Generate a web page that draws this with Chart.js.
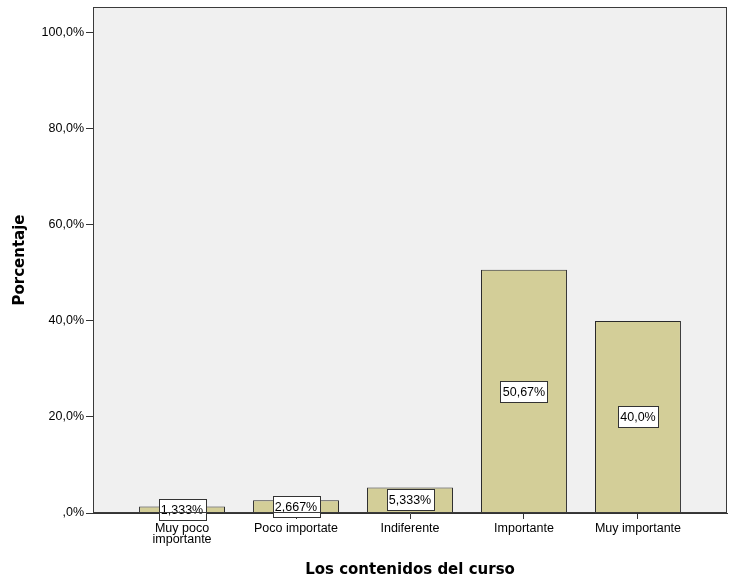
<!DOCTYPE html>
<html><head><meta charset="utf-8">
<script src="https://cdn.jsdelivr.net/npm/chart.js@4/dist/chart.umd.min.js"></script>
<style>html,body{margin:0;padding:0;background:#fff}#wrap{width:734px;height:581px}</style>
</head><body><div id="wrap"><canvas id="c" width="734" height="581"></canvas></div>
<script>
const categories = [['Muy poco','importante'], 'Poco importate', 'Indiferente', 'Importante', 'Muy importante'];
const values = [1.333, 2.667, 5.333, 50.67, 40.0];
const valueLabels = ['1,333%', '2,667%', '5,333%', '50,67%', '40,0%'];
const yTicks = [0, 20, 40, 60, 80, 100];
const FONT = "'Liberation Sans', Arial, sans-serif";
const TFONT = "'DejaVu Sans', sans-serif";

const plotBox = {
  id: 'plotBox',
  beforeDraw(chart) {
    const a = chart.chartArea, ctx = chart.ctx;
    ctx.save(); ctx.fillStyle = '#f0f0f0';
    ctx.fillRect(a.left, a.top, a.right - a.left, a.bottom - a.top);
    ctx.restore();
  },
  afterDraw(chart) {
    const a = chart.chartArea, ctx = chart.ctx;
    ctx.save(); ctx.strokeStyle = '#3a3a3a'; ctx.lineWidth = 1;
    ctx.strokeRect(Math.round(a.left) + 0.5, Math.round(a.top) + 0.5, Math.round(a.right - a.left) - 1, Math.round(a.bottom - a.top) - 1);
    ctx.restore();
  },
  afterDatasetsDraw(chart) {
    const ctx = chart.ctx, meta = chart.getDatasetMeta(0);
    ctx.save();
    ctx.font = '12.5px ' + FONT;
    ctx.textAlign = 'center'; ctx.textBaseline = 'middle';
    meta.data.forEach((bar, i) => {
      const t = valueLabels[i];
      const w = Math.round(ctx.measureText(t).width + 5), h = 21;
      const cx = bar.x, cy = (bar.y + bar.base) / 2;
      const x0 = Math.round(cx - w / 2) + 0.5, y0 = Math.round(cy - h / 2) + 0.5;
      ctx.fillStyle = '#ffffff'; ctx.fillRect(x0, y0, w, h);
      ctx.strokeStyle = '#333'; ctx.lineWidth = 1; ctx.strokeRect(x0, y0, w, h);
      ctx.fillStyle = '#000'; ctx.fillText(t, cx, cy + 1);
    });
    ctx.restore();
  }
};

new Chart(document.getElementById('c'), {
  type: 'bar',
  data: {
    datasets: [{
      data: categories.map((c, i) => ({ x: i, y: values[i] })),
      backgroundColor: '#d3ce98',
      borderColor: '#2a2a2a',
      borderWidth: 1,
      borderSkipped: 'bottom',
      barPercentage: 0.754,
      categoryPercentage: 1
    }]
  },
  options: {
    responsive: false, animation: false,
    layout: { padding: { left: 0, top: 7, right: 7, bottom: 0 } },
    plugins: { legend: { display: false }, tooltip: { enabled: false } },
    scales: {
      x: {
        type: 'linear', min: -0.781, max: 4.781, offset: false,
        afterBuildTicks(s) { s.ticks = categories.map((c, i) => ({ value: i })); },
        afterFit(s) { s.height = 68; s.paddingLeft = 0; s.paddingRight = 0; },
        grid: { offset: false, drawOnChartArea: false, drawTicks: true, tickLength: 6, color: '#333' },
        border: { display: true, color: '#333' },
        ticks: { autoSkip: false, maxRotation: 0, padding: 4, color: '#000', font: { family: FONT, size: 12.5, lineHeight: 0.9 },
          callback: (v) => categories[v] },
        title: { display: true, text: 'Los contenidos del curso', color: '#000', font: { family: TFONT, size: 15, weight: 'bold' }, padding: { top: 0, bottom: 2 } }
      },
      y: {
        min: 0, max: 105.4,
        afterBuildTicks(s) { s.ticks = yTicks.map(v => ({ value: v })); },
        afterFit(s) { s.width = 93; s.paddingTop = 0; s.paddingBottom = 0; },
        grid: { drawOnChartArea: false, drawTicks: true, tickLength: 7, color: '#333' },
        border: { display: true, color: '#333' },
        ticks: { padding: 2, color: '#000', font: { family: FONT, size: 12.5 },
          callback: (v) => { let s = v.toFixed(1).replace('.', ','); if (s.startsWith('0,')) s = s.slice(1); return s + '%'; } },
        title: { display: true, text: 'Porcentaje', color: '#000', font: { family: TFONT, size: 15, weight: 'bold' }, padding: { top: 11, bottom: 0 } }
      }
    }
  },
  plugins: [plotBox]
});
</script></body></html>
